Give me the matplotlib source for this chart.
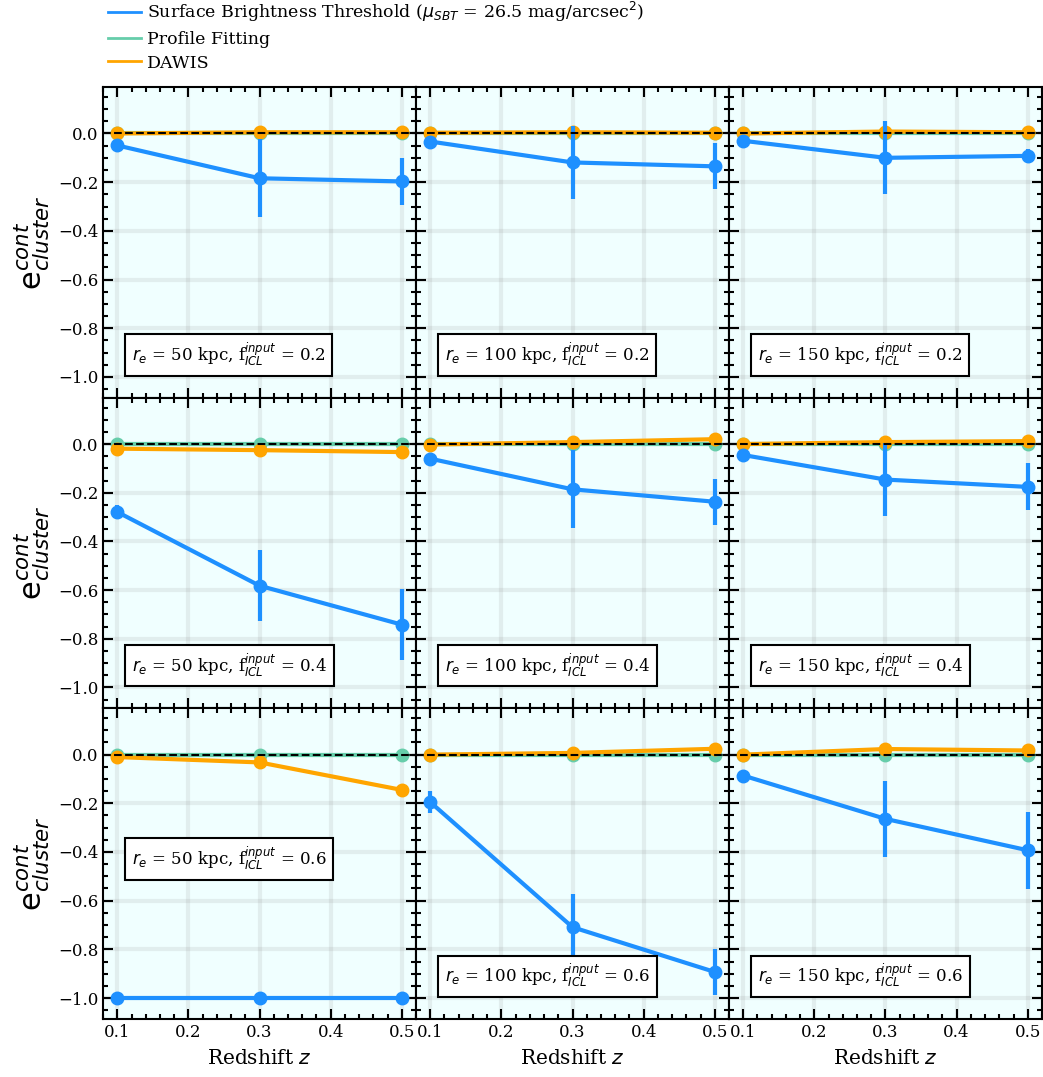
import matplotlib
matplotlib.use("Agg")
import matplotlib.pyplot as plt
from matplotlib.ticker import MultipleLocator, FormatStrFormatter
from matplotlib.lines import Line2D

plt.rcParams['font.family'] = 'DejaVu Serif'
plt.rcParams['mathtext.fontset'] = 'dejavusans'

redshift = [0.1, 0.3, 0.5]
radii = [50, 100, 150]
ficl = [0.2, 0.4, 0.6]

# SBT (blue) values and errors, indexed [row fICL][col radius]
sbt_val = [
    [[-0.049, -0.184, -0.197], [-0.033, -0.119, -0.135], [-0.030, -0.100, -0.092]],
    [[-0.279, -0.582, -0.742], [-0.060, -0.186, -0.237], [-0.045, -0.146, -0.176]],
    [[-1.000, -1.000, -1.000], [-0.195, -0.709, -0.893], [-0.086, -0.264, -0.393]],
]
sbt_err = [
    [[0.010, 0.160, 0.095], [0.008, 0.150, 0.095], [0.008, 0.150, 0.030]],
    [[0.030, 0.145, 0.145], [0.008, 0.160, 0.095], [0.008, 0.150, 0.097]],
    [[0.000, 0.000, 0.000], [0.045, 0.135, 0.095], [0.008, 0.157, 0.158]],
]
pf_val = [
    [[0.0, 0.0, 0.0], [0.0, 0.0, 0.0], [0.0, 0.0, 0.0]],
    [[0.0, 0.0, 0.0], [0.0, 0.0, 0.0], [0.0, 0.0, 0.0]],
    [[0.0, 0.0, 0.0], [0.0, 0.0, 0.0], [0.0, 0.0, 0.0]],
]
dawis_val = [
    [[0.000, 0.005, 0.005], [0.003, 0.005, 0.003], [0.000, 0.008, 0.005]],
    [[-0.019, -0.025, -0.033], [-0.002, 0.008, 0.020], [0.000, 0.008, 0.012]],
    [[-0.010, -0.032, -0.145], [0.000, 0.007, 0.024], [0.000, 0.023, 0.017]],
]
dawis_err = [
    [[0.003, 0.005, 0.003], [0.003, 0.005, 0.003], [0.003, 0.005, 0.003]],
    [[0.005, 0.008, 0.005], [0.003, 0.005, 0.005], [0.003, 0.005, 0.005]],
    [[0.005, 0.025, 0.025], [0.003, 0.005, 0.005], [0.003, 0.005, 0.005]],
]

# layout: vertical position (axes fraction) of the annotation text per panel
label_y = [[0.092, 0.092, 0.092], [0.092, 0.092, 0.092], [0.469, 0.092, 0.092]]

c_sbt = '#1E90FF'
c_pf = '#66CDAA'
c_dawis = '#FFA500'

fig, axes = plt.subplots(3, 3, figsize=(10.43, 10.77), dpi=100, sharex=True, sharey=True)
fig.subplots_adjust(left=0.0988, right=0.999, top=0.919, bottom=0.0539, wspace=0, hspace=0)

for i in range(3):
    for j in range(3):
        ax = axes[i, j]
        ax.set_facecolor('#F0FFFF')
        ax.grid(True, color='gray', alpha=0.13, lw=3)
        ax.set_axisbelow(True)
        ax.errorbar(redshift, pf_val[i][j], yerr=0.003, color=c_pf, lw=3, marker='o', ms=9, elinewidth=3,
                    capsize=0, zorder=3)
        ax.errorbar(redshift, dawis_val[i][j], yerr=dawis_err[i][j], color=c_dawis, lw=3, marker='o', ms=9,
                    elinewidth=3, capsize=0, zorder=4)
        ax.errorbar(redshift, sbt_val[i][j], yerr=sbt_err[i][j], color=c_sbt, lw=3, marker='o', ms=9,
                    elinewidth=3, capsize=0, zorder=5)
        ax.axhline(0, color='black', ls='--', lw=1.5, zorder=6)
        ax.set_xlim(0.08, 0.52)
        ax.set_ylim(-1.086, 0.19)
        ax.xaxis.set_major_locator(MultipleLocator(0.1))
        ax.xaxis.set_minor_locator(MultipleLocator(0.02))
        ax.yaxis.set_major_locator(MultipleLocator(0.2))
        ax.yaxis.set_minor_locator(MultipleLocator(0.05))
        ax.tick_params(which='both', direction='in', top=True, right=True, width=1.5, labelsize=12)
        ax.tick_params(which='major', length=7)
        ax.tick_params(which='minor', length=3.5)
        for s in ax.spines.values():
            s.set_linewidth(1.5)
        ax.text(0.093, label_y[i][j],
                r'$r_e$ = %d kpc, f$^{input}_{ICL}$ = %.1f' % (radii[j], ficl[i]),
                transform=ax.transAxes, fontsize=12, va='bottom', ha='left', zorder=10,
                bbox=dict(facecolor='white', edgecolor='black', boxstyle='square,pad=0.4', lw=1.5))
        if j == 0:
            ax.set_ylabel(r'e$^{cont}_{cluster}$', fontsize=22, family='DejaVu Sans')
        if i == 2:
            ax.set_xlabel(r'Redshift $z$', fontsize=14.5, labelpad=6)
            ax.xaxis.set_major_formatter(FormatStrFormatter('%.1f'))

labels = [r'Surface Brightness Threshold ($\mu_{SBT}$ = 26.5 mag/arcsec$^{2}$)', 'Profile Fitting', 'DAWIS']
hl = [Line2D([], [], color=c_sbt, lw=2), Line2D([], [], color=c_pf, lw=2), Line2D([], [], color=c_dawis, lw=2)]
fig.legend(hl, labels, loc='upper left', bbox_to_anchor=(0.089, 1.0143), frameon=False, fontsize=12.5,
           handlelength=1.85, handletextpad=0.35, labelspacing=0.38)

fig.savefig('out.png', dpi=100)
